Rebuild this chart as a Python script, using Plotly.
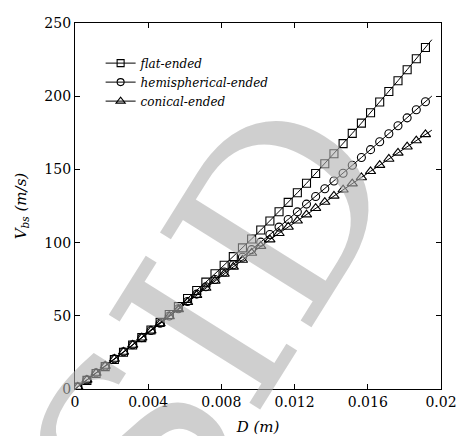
import plotly.graph_objects as go

# Diameter of the projectile nose (m), sampled every 0.5 mm
diameter = [0.00015 + 0.0005 * k for k in range(39)]

# Ballistic limit velocity V_bs (m/s) for each nose shape
v_flat = [1.4, 5.9, 10.6, 15.3, 20.2, 25.1, 30.1, 35.1, 40.3, 45.5,
          50.9, 56.3, 61.8, 67.3, 73.0, 78.7, 84.5, 90.4, 96.4, 102.5,
          108.6, 114.8, 121.1, 127.5, 134.0, 140.5, 147.2, 153.9, 160.7, 167.6,
          174.6, 181.6, 188.7, 196.0, 203.2, 210.6, 218.1, 225.6, 233.3]
v_hemi = [1.4, 6.2, 11.0, 15.7, 20.6, 25.4, 30.2, 35.1, 40.0, 44.9,
          49.9, 54.8, 59.8, 64.8, 69.8, 74.8, 79.9, 84.9, 90.0, 95.2,
          100.3, 105.5, 110.6, 115.8, 121.0, 126.3, 131.5, 136.8, 142.1, 147.4,
          152.8, 158.1, 163.5, 168.9, 174.3, 179.8, 185.2, 190.7, 196.2]
v_cone = [1.4, 6.2, 10.9, 15.7, 20.5, 25.3, 30.1, 35.0, 39.8, 44.7,
          49.6, 54.4, 59.3, 64.1, 69.0, 73.8, 78.6, 83.4, 88.1, 92.9,
          97.6, 102.0, 106.4, 110.7, 114.9, 119.1, 123.5, 127.7, 131.9, 136.1,
          140.3, 144.5, 148.7, 152.9, 157.1, 161.3, 165.5, 169.7, 173.9]

# Fitted curves, running from the origin slightly past the last sample
d_fit = [0.0] + diameter + [0.0195]
fit_flat = [0.0] + v_flat + [238.6]
fit_hemi = [0.0] + v_hemi + [200.1]
fit_cone = [0.0] + v_cone + [176.8]

series = [
    ("flat-ended", v_flat, fit_flat, "square-open", 8),
    ("hemispherical-ended", v_hemi, fit_hemi, "circle-open", 8),
    ("conical-ended", v_cone, fit_cone, "triangle-up-open", 9),
]

x_ticks = [0, 0.004, 0.008, 0.012, 0.016, 0.02]
x_labels = ["0", "0.004", "0.008", "0.012", "0.016", "0.02"]
y_ticks = [0, 50, 100, 150, 200, 250]
y_labels = ["0", "50", "100", "150", "200", "250"]

serif = "DejaVu Serif"
fig = go.Figure()

for name, vals, fit, sym, size in series:
    fig.add_trace(go.Scatter(
        x=d_fit, y=fit, mode="lines",
        line=dict(color="black", width=1),
        showlegend=False, hoverinfo="skip"))
    fig.add_trace(go.Scatter(
        x=diameter, y=vals, mode="markers",
        marker=dict(symbol=sym, size=size, color="black",
                    line=dict(color="black", width=1.1)),
        showlegend=False))
    # legend entry: line with a marker
    fig.add_trace(go.Scatter(
        x=[None], y=[None], mode="lines+markers", name=name,
        line=dict(color="black", width=1),
        marker=dict(symbol=sym, size=size - 1, color="black",
                    line=dict(color="black", width=1.1))))

axis_common = dict(
    showline=True, linecolor="black", linewidth=1.3, mirror="ticks",
    ticks="inside", ticklen=5, tickwidth=1.1, tickcolor="black",
    showgrid=False, zeroline=False, automargin=False,
    ticklabeloverflow="allow",
    tickfont=dict(family=serif, size=14, color="black"),
)

fig.update_xaxes(range=[0, 0.02], tickvals=x_ticks, ticktext=x_labels,
                 title=dict(text="<i>D (m)</i>", standoff=16,
                            font=dict(family=serif, size=15, color="black")),
                 **axis_common)
fig.update_yaxes(range=[0, 250], tickvals=y_ticks, ticktext=y_labels,
                 title=dict(text="<i>V<sub>bs</sub> (m/s)</i>", standoff=14,
                            font=dict(family=serif, size=15, color="black")),
                 **axis_common)

# Repository watermark
fig.add_annotation(
    text="SID", xref="paper", yref="paper", x=0.38, y=0.18,
    xanchor="center", yanchor="middle",
    showarrow=False, textangle=-58,
    font=dict(family=serif, size=245, color="rgba(175,175,175,0.6)"))

fig.update_layout(
    width=457, height=436,
    margin=dict(l=75, r=16, t=23, b=47),
    paper_bgcolor="white", plot_bgcolor="white",
    legend=dict(x=0.07, y=0.93, xanchor="left", yanchor="top",
                bgcolor="rgba(0,0,0,0)", tracegroupgap=0,
                font=dict(family=serif, size=12, color="black", style="italic"),
                itemwidth=30),
    font=dict(family=serif),
)

fig.write_html("out.html")
